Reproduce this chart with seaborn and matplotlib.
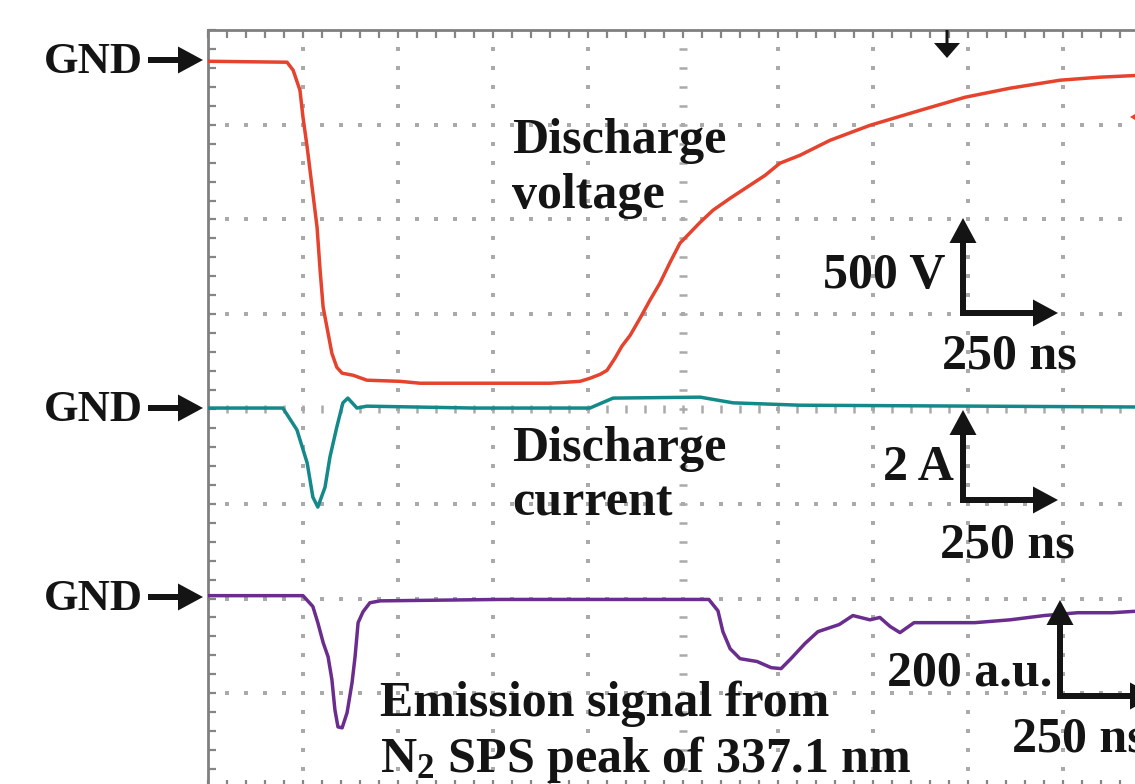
import numpy as np
import pandas as pd
import matplotlib
matplotlib.use("Agg")
import matplotlib.pyplot as plt
import seaborn as sns
from matplotlib.patches import Polygon

# ---------------- data ----------------
# time axis in ns, 250 ns / div
volt_t = [0, 208, 224, 242, 250, 261, 274, 287, 295, 303, 316, 326, 339, 353, 382, 418,
          505, 558, 900, 979, 1005, 1032, 1050, 1071, 1089, 1111, 1137, 1163, 1189, 1216,
          1242, 1295, 1329, 1374, 1418, 1466, 1505, 1558, 1637, 1742, 1874, 1992, 2111,
          2242, 2347, 2453, 2500]
volt_v = [0, -5, -47, -153, -296, -454, -665, -876, -1103, -1298, -1435, -1541, -1615,
          -1646, -1657, -1683, -1689, -1699, -1699, -1689, -1673, -1652, -1631, -1567,
          -1504, -1446, -1356, -1261, -1172, -1061, -960, -850, -786, -723, -665, -602,
          -538, -496, -417, -338, -259, -190, -142, -100, -84, -74, -72]

cur_t = [0, 197, 234, 261, 276, 289, 308, 321, 339, 355, 368, 392, 418, 700, 1005, 1066,
         1295, 1382, 1558, 2500]
cur_a = [0, 0, -0.46, -1.16, -1.88, -2.09, -1.67, -1.03, -0.40, 0.11, 0.21, 0, 0.04, 0.0,
         0, 0.21, 0.23, 0.11, 0.06, 0.02]

emi_t = [0, 250, 276, 289, 303, 316, 326, 334, 342, 353, 366, 379, 387, 395, 408, 426, 453,
         768, 1318, 1342, 1355, 1374, 1400, 1445, 1482, 1508, 1534, 1571, 1605, 1661, 1697,
         1742, 1768, 1795, 1821, 1858, 1929, 2018, 2111, 2200, 2289, 2379, 2500]
emi_au = [0, 0, -23, -57, -99, -129, -177, -241, -277, -279, -247, -184, -129, -57, -34,
          -15, -11, -8, -8, -32, -76, -112, -133, -139, -152, -154, -133, -101, -76, -61,
          -42, -51, -46, -65, -78, -57, -57, -57, -51, -42, -36, -36, -30]

# channel settings (per division) and ground offsets (div)
TIME_SCALE = 250
VOLT_SCALE, VOLT_GND = 500, 3.67
CUR_SCALE, CUR_GND = 2, 0.01
EMI_SCALE, EMI_GND = 200, -1.97

trace_labels = [["Discharge", "voltage"], ["Discharge", "current"],
                ["Emission signal from", "N$_2$ SPS peak of 337.1 nm"]]
scale_labels = ["500 V", "2 A", "200 a.u."]
time_label = "250 ns"
gnd_label = "GND"

RED, TEAL, PURPLE = "#e5432e", "#14898a", "#6a2d8e"
GRAY = "#aaaaaa"
INK = "#141414"

# ---------------- figure ----------------
sns.set_theme(style="white")
plt.rcParams["font.family"] = ["Liberation Serif", "DejaVu Serif"]
plt.rcParams["mathtext.fontset"] = "custom"
plt.rcParams["mathtext.rm"] = "Liberation Serif:bold"
plt.rcParams["mathtext.it"] = "Liberation Serif:bold"
plt.rcParams["mathtext.bf"] = "Liberation Serif:bold"

W, H = 1135, 784
fig = plt.figure(figsize=(W / 100, H / 100), dpi=100)
fig.patch.set_facecolor("white")
ax = fig.add_axes([208 / W, 1 - 788 / H, 950 / W, 758 / H])
ax.set_xlim(0, 10)
ax.set_ylim(-4, 4)

# dotted graticule
xm = np.round(np.arange(0, 10.001, 0.2), 3)
ym = np.round(np.arange(-4, 4.001, 0.2), 3)
for xv in range(1, 10):
    if xv == 5:
        continue
    ax.plot(np.full(len(ym), xv), ym, ls="none", marker="s", ms=2.2, mew=0, color=GRAY, zorder=1)
for yv in range(-3, 4):
    if yv == 0:
        continue
    ax.plot(xm, np.full(len(xm), yv), ls="none", marker="s", ms=2.2, mew=0, color=GRAY, zorder=1)
# centre cross with tick marks
ax.hlines(ym, 5 - 0.04, 5 + 0.04, color=GRAY, lw=1.8, zorder=1)
ax.vlines(xm, -0.04, 0.04, color=GRAY, lw=1.8, zorder=1)

ax.set_xticks(np.arange(0, 10.01, 1))
ax.set_yticks(np.arange(-4, 4.01, 1))
ax.set_xticks(xm, minor=True)
ax.set_yticks(ym, minor=True)
ax.tick_params(which="both", direction="in", length=6, width=1.6, colors="#858585",
               top=True, right=True, bottom=True, left=True,
               labelbottom=False, labelleft=False)
for sp in ax.spines.values():
    sp.set_color("#808080")
    sp.set_linewidth(2)
ax.grid(False)

# traces
vdf = pd.DataFrame({"t": np.array(volt_t) / TIME_SCALE,
                    "y": VOLT_GND + np.array(volt_v) / VOLT_SCALE})
cdf = pd.DataFrame({"t": np.array(cur_t) / TIME_SCALE,
                    "y": CUR_GND + np.array(cur_a) / CUR_SCALE})
edf = pd.DataFrame({"t": np.array(emi_t) / TIME_SCALE,
                    "y": EMI_GND + np.array(emi_au) / EMI_SCALE})
sns.lineplot(data=vdf, x="t", y="y", ax=ax, color=RED, lw=2.5, estimator=None, sort=False, zorder=3)
sns.lineplot(data=cdf, x="t", y="y", ax=ax, color=TEAL, lw=2.5, estimator=None, sort=False, zorder=3)
sns.lineplot(data=edf, x="t", y="y", ax=ax, color=PURPLE, lw=2.5, estimator=None, sort=False, zorder=3)
ax.set_xlabel("")
ax.set_ylabel("")
ax.set_xlim(0, 10)
ax.set_ylim(-4, 4)

# ---------------- annotations in pixel space ----------------
ov = fig.add_axes([0, 0, 1, 1], zorder=5)
ov.set_xlim(0, W)
ov.set_ylim(H, 0)
ov.axis("off")
ov.patch.set_alpha(0)

def txt(x, y, s, size=36):
    ov.text(x, y, s, fontsize=size, fontweight="bold", color=INK, ha="left", va="baseline")

def arrow(x, y, dx, dy, width=6, hw=27, hl=25):
    ov.arrow(x, y, dx, dy, width=width, head_width=hw, head_length=hl,
             length_includes_head=True, color=INK, lw=0)

# GND markers
for gy in (60, 408, 597):
    txt(44, gy + 13, gnd_label, size=32)
    arrow(148, gy, 55, 0)

# trace labels
txt(512, 153, trace_labels[0][0]); txt(512, 208, trace_labels[0][1])
txt(512, 461, trace_labels[1][0]); txt(512, 515, trace_labels[1][1])
txt(380, 716, trace_labels[2][0]); txt(380, 772, trace_labels[2][1])

# scale bars
for (cx, cy, top, lx, ly, tx, ty, s) in [
        (963, 313, 218, 823, 288, 942, 368, scale_labels[0]),
        (963, 500, 410, 883, 480, 940, 558, scale_labels[1]),
        (1060, 696, 600, 887, 685, 1012, 751, scale_labels[2])]:
    arrow(cx, cy + 3, 0, top - cy - 3)
    arrow(cx - 3, cy, 98, 0)
    txt(lx, ly, s)
    txt(tx, ty, time_label)

# trigger marker and channel marker
arrow(947, 30, 0, 28, width=3, hw=26, hl=15)
ov.add_patch(Polygon([[1130, 117], [1150, 105], [1150, 129]], closed=True, color=RED, lw=0))

fig.savefig("out.png", dpi=100, facecolor="white")
